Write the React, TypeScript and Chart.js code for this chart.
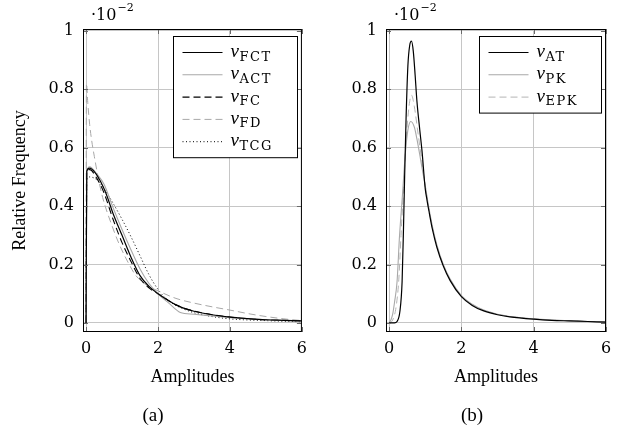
import React, { useEffect, useRef } from 'react';
import { Chart, registerables } from 'chart.js';

Chart.register(...registerables);

// ---------- data ----------
const X_TICKS = [0, 2, 4, 6];
const Y_TICKS = [0, 0.2, 0.4, 0.6, 0.8, 1];
const X_MIN = -0.085;
const X_MAX = 6;
const Y_MIN = -0.031;
const Y_MAX = 1.0065;

// panel (a)
const FCT_X = [0, 0.02, 0.1, 0.25, 0.4, 0.55, 0.75, 1.0, 1.25, 1.5, 1.75, 2.0, 2.25, 2.5, 2.75, 3.0, 3.5, 4.0, 4.5, 5.0, 5.5, 6.0];
const FCT_Y = [0, 0.52, 0.53, 0.515, 0.485, 0.445, 0.375, 0.3, 0.225, 0.162, 0.125, 0.1, 0.08, 0.062, 0.049, 0.04, 0.028, 0.02, 0.015, 0.011, 0.009, 0.007];

const ACT_X = [0, 0.02, 0.1, 0.3, 0.5, 0.75, 1.0, 1.25, 1.5, 1.75, 2.0, 2.3, 2.62, 3.0, 3.5, 4.0, 5.0, 6.0];
const ACT_Y = [0, 0.52, 0.535, 0.51, 0.475, 0.395, 0.32, 0.25, 0.185, 0.135, 0.1, 0.068, 0.036, 0.03, 0.024, 0.018, 0.011, 0.006];

const FC_X = [0, 0.02, 0.1, 0.3, 0.5, 0.75, 1.0, 1.25, 1.5, 1.75, 2.0, 2.5, 3.0, 4.0, 5.0, 6.0];
const FC_Y = [0, 0.52, 0.525, 0.495, 0.445, 0.355, 0.275, 0.21, 0.152, 0.12, 0.1, 0.062, 0.041, 0.02, 0.011, 0.007];

const FD_X = [0, 0.01, 0.05, 0.1, 0.15, 0.23, 0.35, 0.46, 0.7, 0.92, 1.2, 1.38, 1.7, 2.0, 2.5, 3.0, 3.6, 4.0, 4.5, 5.0, 5.5, 6.0];
const FD_Y = [0, 0.82, 0.75, 0.68, 0.63, 0.57, 0.49, 0.43, 0.34, 0.27, 0.2, 0.163, 0.128, 0.11, 0.084, 0.068, 0.053, 0.044, 0.032, 0.022, 0.014, 0.008];

const TCG_X = [0, 0.02, 0.1, 0.3, 0.5, 0.75, 1.0, 1.25, 1.5, 1.75, 2.0, 2.25, 2.5, 3.0, 3.5, 4.0, 5.0, 6.0];
const TCG_Y = [0, 0.49, 0.5, 0.49, 0.46, 0.41, 0.355, 0.295, 0.23, 0.165, 0.115, 0.08, 0.06, 0.035, 0.022, 0.014, 0.008, 0.004];

// panel (b)
const AT_X = [0, 0.15, 0.22, 0.3, 0.36, 0.4, 0.43, 0.47, 0.52, 0.57, 0.62, 0.67, 0.72, 0.77, 0.85, 0.91, 1.0, 1.05, 1.1, 1.2, 1.32, 1.5, 1.69, 2.0, 2.3, 2.6, 3.0, 3.34, 4.0, 4.5, 5.0, 5.5, 6.0];
const AT_Y = [0, 0, 0.005, 0.04, 0.14, 0.33, 0.5, 0.7, 0.88, 0.95, 0.965, 0.93, 0.85, 0.76, 0.66, 0.59, 0.46, 0.42, 0.385, 0.32, 0.26, 0.195, 0.145, 0.09, 0.06, 0.042, 0.028, 0.021, 0.013, 0.009, 0.007, 0.005, 0.003];

const PK_X = [0, 0.05, 0.1, 0.15, 0.22, 0.29, 0.36, 0.45, 0.52, 0.6, 0.7, 0.77, 0.85, 0.92, 1.0, 1.1, 1.2, 1.32, 1.5, 1.69, 2.0, 2.3, 2.6, 3.0, 3.34, 4.0, 5.0, 6.0];
const PK_Y = [0, 0.01, 0.03, 0.07, 0.14, 0.3, 0.42, 0.58, 0.66, 0.69, 0.67, 0.63, 0.575, 0.525, 0.47, 0.395, 0.33, 0.268, 0.2, 0.15, 0.094, 0.064, 0.045, 0.03, 0.022, 0.014, 0.007, 0.003];

const EPK_X = [0, 0.1, 0.2, 0.27, 0.33, 0.4, 0.47, 0.55, 0.62, 0.7, 0.8, 0.9, 1.0, 1.1, 1.2, 1.32, 1.5, 1.69, 2.0, 2.6, 3.0, 4.0, 5.0, 6.0];
const EPK_Y = [0, 0.01, 0.06, 0.15, 0.3, 0.46, 0.62, 0.74, 0.78, 0.74, 0.65, 0.56, 0.47, 0.39, 0.325, 0.265, 0.198, 0.148, 0.092, 0.044, 0.03, 0.014, 0.007, 0.003];

const LABELS_A = ['v_FCT', 'v_ACT', 'v_FC', 'v_FD', 'v_TCG'];
const LABELS_B = ['v_AT', 'v_PK', 'v_EPK'];

// ---------- styling ----------
const BLACK = '#000000';
const GRAY = '#a8a8a8';
const GRID = '#c6c6c6';

const pts = (xs: number[], ys: number[]) => xs.map((x, i) => ({ x, y: ys[i] }));

const line = (label: string, xs: number[], ys: number[], color: string, width: number, dash: number[]) => ({
  label,
  data: pts(xs, ys),
  borderColor: color,
  borderWidth: width,
  borderDash: dash,
  pointRadius: 0,
  fill: false,
  cubicInterpolationMode: 'monotone',
});

const decorPlugin = {
  id: 'decor',
  afterDraw(chart: any, _args: any, opts: any) {
    const ctx = chart.ctx as CanvasRenderingContext2D;
    const a = chart.chartArea;
    const xs = chart.scales.x;
    const ys = chart.scales.y;
    ctx.save();
    // inner tick marks
    ctx.strokeStyle = '#6a6a6a';
    ctx.lineWidth = 1;
    ctx.beginPath();
    X_TICKS.forEach((v) => {
      const p = Math.round(xs.getPixelForValue(v)) + 0.5;
      ctx.moveTo(p, a.bottom); ctx.lineTo(p, a.bottom - 5);
      ctx.moveTo(p, a.top); ctx.lineTo(p, a.top + 5);
    });
    Y_TICKS.forEach((v) => {
      const p = Math.round(ys.getPixelForValue(v)) + 0.5;
      ctx.moveTo(a.left, p); ctx.lineTo(a.left + 5, p);
      ctx.moveTo(a.right, p); ctx.lineTo(a.right - 5, p);
    });
    ctx.stroke();
    // frame
    ctx.strokeStyle = BLACK;
    ctx.lineWidth = 1;
    ctx.strokeRect(a.left + 0.5, a.top + 0.5, a.right - a.left - 1, a.bottom - a.top - 1);

    // legend
    const dsets = chart.data.datasets;
    const rowH = 22.3;
    const bw = opts.legendWidth;
    const bh = 32 + (dsets.length - 1) * rowH;
    const bx = Math.round(a.right - 5 - bw) + 0.5;
    const by = Math.round(a.top + 7) + 0.5;
    ctx.fillStyle = '#ffffff';
    ctx.fillRect(bx, by, bw, bh);
    ctx.strokeStyle = BLACK;
    ctx.strokeRect(bx, by, bw, bh);
    dsets.forEach((ds: any, i: number) => {
      const cy = by + 16 + i * rowH;
      ctx.save();
      ctx.strokeStyle = ds.borderColor;
      ctx.lineWidth = ds.borderWidth;
      ctx.setLineDash(ds.borderDash || []);
      ctx.beginPath();
      ctx.moveTo(bx + 9, cy);
      ctx.lineTo(bx + 49, cy);
      ctx.stroke();
      ctx.restore();
      const [main, sub] = String(ds.label).split('_');
      ctx.fillStyle = BLACK;
      ctx.textBaseline = 'alphabetic';
      ctx.textAlign = 'left';
      ctx.font = 'italic 19px "Liberation Serif"';
      const tx = bx + 57;
      ctx.fillText(main, tx, cy + 4.5);
      const mw = ctx.measureText(main).width;
      ctx.font = '13px "DejaVu Serif"';
      (ctx as any).letterSpacing = '1.5px';
      ctx.fillText(sub, tx + mw + 0.5, cy + 8);
      (ctx as any).letterSpacing = '0px';
    });

    // exponent marker
    ctx.fillStyle = BLACK;
    ctx.textAlign = 'left';
    ctx.textBaseline = 'alphabetic';
    ctx.font = '16px "DejaVu Serif"';
    const ex = a.left + 8;
    ctx.fillText('\u00b710', ex, 20);
    const ew = ctx.measureText('\u00b710').width;
    ctx.font = '11px "DejaVu Serif"';
    ctx.fillText('\u22122', ex + ew + 1, 10.5);

    // caption
    ctx.font = '19px "Liberation Serif"';
    ctx.textAlign = 'center';
    ctx.textBaseline = 'middle';
    ctx.fillText(opts.caption, opts.captionX, 416);
    ctx.restore();
  },
};

function makeChart(canvas: HTMLCanvasElement, datasets: any[], cfg: any) {
  return new Chart(canvas, {
    type: 'line',
    data: { datasets },
    plugins: [decorPlugin],
    options: {
      animation: false,
      responsive: false,
      devicePixelRatio: 1,
      layout: { padding: { top: 29, bottom: 40, left: 0, right: cfg.padRight } },
      plugins: {
        legend: { display: false },
        tooltip: { enabled: false },
        decor: { legendWidth: cfg.legendWidth, caption: cfg.caption, captionX: cfg.captionX },
      } as any,
      scales: {
        x: {
          type: 'linear',
          min: X_MIN,
          max: X_MAX,
          afterBuildTicks: (s: any) => { s.ticks = X_TICKS.map((v) => ({ value: v })); },
          afterFit: (s: any) => { s.height = 60; },
          grid: { color: GRID, lineWidth: 1, drawTicks: false },
          border: { display: false },
          ticks: {
            font: { family: 'DejaVu Serif', size: 16 },
            color: BLACK,
            padding: 7,
            maxRotation: 0,
            callback: (v: any) => String(v),
          },
          title: {
            display: true,
            text: 'Amplitudes',
            font: { family: 'Liberation Serif', size: 18 },
            color: BLACK,
            padding: { top: 0, bottom: 4 },
          },
        },
        y: {
          type: 'linear',
          min: Y_MIN,
          max: Y_MAX,
          afterBuildTicks: (s: any) => { s.ticks = Y_TICKS.map((v) => ({ value: v })); },
          afterFit: (s: any) => { s.width = cfg.yWidth; },
          grid: { color: GRID, lineWidth: 1, drawTicks: false },
          border: { display: false },
          ticks: {
            font: { family: 'DejaVu Serif', size: 16 },
            color: BLACK,
            padding: 9,
            callback: (v: any) => String(v),
          },
          title: {
            display: cfg.yTitle,
            text: 'Relative Frequency',
            font: { family: 'Liberation Serif', size: 18 },
            color: BLACK,
            padding: { top: 9, bottom: 0 },
          },
        },
      },
    } as any,
  });
}

export default function App() {
  const refA = useRef<HTMLCanvasElement>(null);
  const refB = useRef<HTMLCanvasElement>(null);

  useEffect(() => {
    const a = makeChart(
      refA.current!,
      [
        line(LABELS_A[0], FCT_X, FCT_Y, BLACK, 1.2, []),
        line(LABELS_A[1], ACT_X, ACT_Y, GRAY, 1.1, []),
        line(LABELS_A[2], FC_X, FC_Y, BLACK, 1.1, [7, 4]),
        line(LABELS_A[3], FD_X, FD_Y, GRAY, 1.0, [7, 4]),
        line(LABELS_A[4], TCG_X, TCG_Y, BLACK, 1.0, [1, 2.5]),
      ],
      { padRight: 10, yWidth: 83, yTitle: true, legendWidth: 124, caption: '(a)', captionX: 153 },
    );
    const b = makeChart(
      refB.current!,
      [
        line(LABELS_B[0], AT_X, AT_Y, BLACK, 1.2, []),
        line(LABELS_B[1], PK_X, PK_Y, GRAY, 1.1, []),
        line(LABELS_B[2], EPK_X, EPK_Y, '#b4b4b4', 1.0, [7, 4]),
      ],
      { padRight: 22, yWidth: 72, yTitle: false, legendWidth: 122, caption: '(b)', captionX: 158 },
    );
    return () => { a.destroy(); b.destroy(); };
  }, []);

  return (
    <div style={{ position: 'absolute', left: 0, top: 0, width: 628, height: 432, background: '#fff', display: 'flex' }}>
      <canvas ref={refA} width={314} height={432} style={{ width: 314, height: 432, display: 'block' }} />
      <canvas ref={refB} width={314} height={432} style={{ width: 314, height: 432, display: 'block' }} />
    </div>
  );
}
